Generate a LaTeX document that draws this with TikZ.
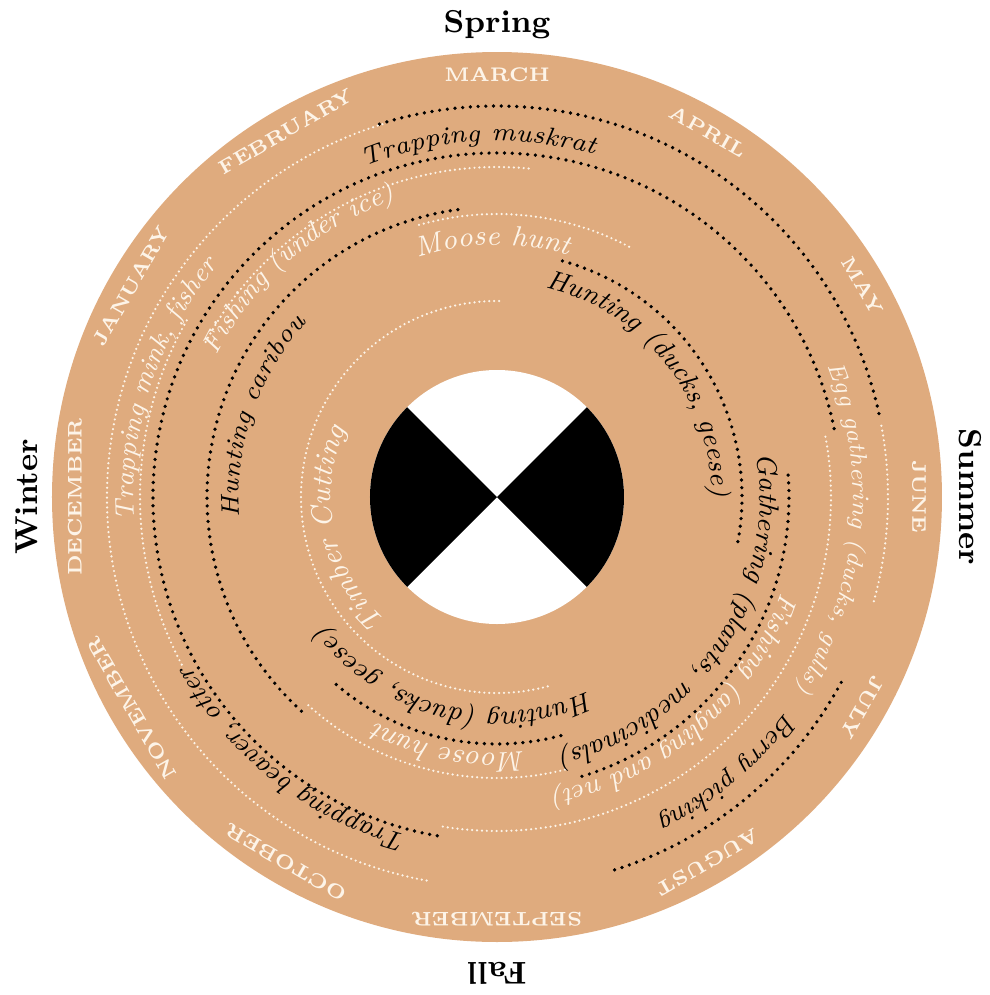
\documentclass[tikz,border=0pt]{standalone}
\usepackage{tikz}
\usetikzlibrary{decorations.text}

\definecolor{roundtan}{RGB}{223,171,126}
\definecolor{cream}{RGB}{253,244,232}

% text set along a clockwise arc, centred on an angle
\newcommand{\arclabel}[5]{%
  \path[decorate, decoration={text along path, text align=center, text color=#1,
      text={|\fontsize{#4}{#4}\selectfont\itshape|#5}}]
    ({#2+80}:#3) arc[start angle={#2+80}, end angle={#2-80}, radius=#3];}

\begin{document}
\begin{tikzpicture}[
    blkdots/.style={black, line width=1.05pt, line cap=round, dash pattern=on 0pt off 2.2pt},
    whtdots/.style={cream, line width=0.7pt, line cap=round, dash pattern=on 0pt off 1.4pt},
    season/.style={font=\fontsize{9}{10}\selectfont\bfseries},
    month/.style={text=cream, font=\fontsize{5.6}{6}\selectfont\bfseries}]
\useasboundingbox (-4.97,-4.98) rectangle (4.92,4.97);
% Draw the disc and the centre
\fill[roundtan] (0,0) circle (4.45);
\fill[white] (0,0) circle (1.27);
\fill (0,0) -- (135:1.27) arc[start angle=135, end angle=225, radius=1.27] -- cycle;
\fill (0,0) -- (-45:1.27) arc[start angle=-45, end angle=45, radius=1.27] -- cycle;
% Label the seasons
\node[season] (spring) at (90:4.72) {Spring};
\node[season, rotate=-90] (summer) at (0:4.73) {Summer};
\node[season, rotate=180] (fall) at (270:4.76) {Fall};
\node[season, rotate=90] (winter) at (180:4.70) {Winter};
% Label the months
\foreach \m [count=\i] in {MARCH,APRIL,MAY,JUNE,JULY,AUGUST,SEPTEMBER,OCTOBER,NOVEMBER,DECEMBER,JANUARY,FEBRUARY}
  \node[month, rotate={30-30*\i}] (m\i) at ({120-30*\i}:4.22) {\m};
% Black activity arcs
\foreach \a/\b/\r in {107.5/11.8/3.91, 260/11/3.44, 227.6/96.5/2.90, 74.5/-10.8/2.45,
    285/229/2.47, 4.3/-73.5/2.92, -28.3/-73/3.91}
  \draw[blkdots] (\a:\r) arc[start angle=\a, end angle=\b, radius=\r];
% White activity arcs
\foreach \a/\b/\r in {259.6/107/3.90, 152/84/3.30, 208/150/3.57, 106/62/2.83,
    284/227/2.81, 285/89/1.96, 10.5/-16/3.91, 10.4/-100/3.34}
  \draw[whtdots] (\a:\r) arc[start angle=\a, end angle=\b, radius=\r];
% Label the activities
\arclabel{black}{93}{3.56}{7.2}{Trapping muskrat}
\arclabel{black}{38.5}{2.15}{7.7}{Hunting (ducks, geese)}
\arclabel{black}{161}{2.58}{7.2}{Hunting caribou}
\arclabel{black}{232}{3.50}{7.6}{Trapping beaver, otter}
\arclabel{black}{-33.5}{2.63}{7.8}{Gathering (plants, medicinals)}
\arclabel{black}{256}{2.15}{7.8}{Hunting (ducks, geese)}
\arclabel{black}{-50}{3.60}{7.5}{Berry picking}
\arclabel{cream}{162}{3.63}{7.6}{Trapping mink, fisher}
\arclabel{cream}{131}{3.14}{7.6}{Fishing (under ice)}
\arclabel{cream}{91}{2.52}{8}{Moose hunt}
\arclabel{cream}{259}{2.56}{8}{Moose hunt}
\arclabel{cream}{192}{1.66}{8.2}{Timber Cutting}
\arclabel{cream}{-5.5}{3.56}{6.7}{Egg gathering (ducks, gulls)}
\arclabel{cream}{-49}{3.00}{7.6}{Fishing (angling and net)}
\end{tikzpicture}
\end{document}
